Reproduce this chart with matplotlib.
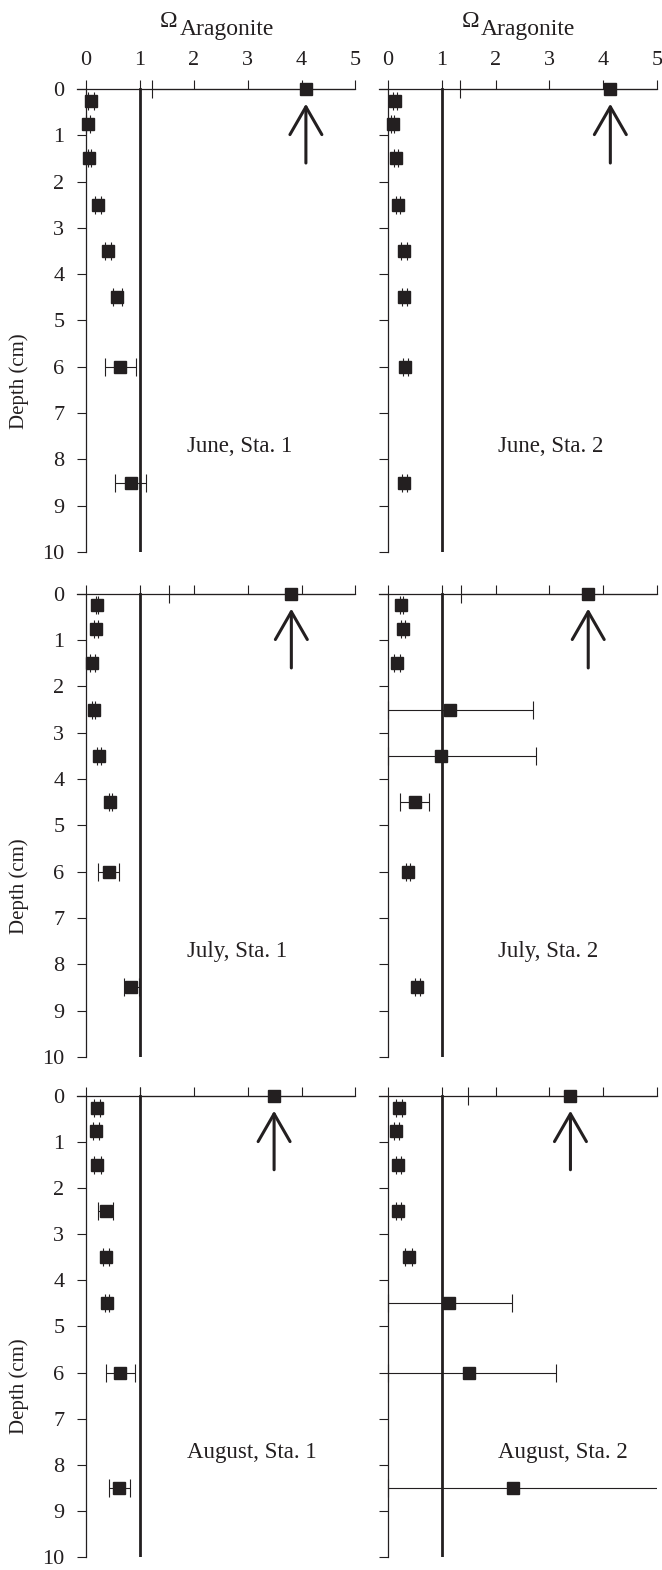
import matplotlib.pyplot as plt

plt.rcParams['font.family'] = ['Liberation Serif', 'DejaVu Serif']

# depths (cm) of the pore-water samples
depths = [0.25, 0.75, 1.5, 2.5, 3.5, 4.5, 6.0, 8.5]

june1_val = [0.09, 0.04, 0.06, 0.22, 0.41, 0.58, 0.64, 0.83]
june1_err = [0.05, 0.04, 0.03, 0.05, 0.05, 0.08, 0.28, 0.29]
june2_val = [0.14, 0.09, 0.15, 0.19, 0.30, 0.31, 0.33, 0.31]
june2_err = [0.04, 0.03, 0.04, 0.04, 0.06, 0.05, 0.05, 0.05]
july1_val = [0.20, 0.18, 0.12, 0.14, 0.24, 0.45, 0.42, 0.84]
july1_err = [0.02, 0.04, 0.04, 0.03, 0.04, 0.03, 0.19, 0.14]
july2_val = [0.25, 0.28, 0.17, 1.16, 0.99, 0.50, 0.38, 0.55]
july2_err = [0.03, 0.04, 0.06, 1.54, 1.77, 0.27, 0.04, 0.04]
aug1_val = [0.20, 0.19, 0.21, 0.37, 0.37, 0.39, 0.64, 0.62]
aug1_err = [0.06, 0.06, 0.07, 0.14, 0.05, 0.03, 0.27, 0.20]
aug2_val = [0.21, 0.16, 0.20, 0.20, 0.39, 1.13, 1.50, 2.33]
aug2_err = [0.05, 0.05, 0.04, 0.05, 0.06, 1.17, 1.63, 2.90]

# overlying water (depth 0)
surface_val = [4.08, 4.13, 3.81, 3.72, 3.49, 3.39]
surface_err = [2.86, 2.79, 2.27, 2.36, 2.49, 1.90]

panel_labels = ['June, Sta. 1', 'June, Sta. 2', 'July, Sta. 1',
                'July, Sta. 2', 'August, Sta. 1', 'August, Sta. 2']
panel_vals = [june1_val, june2_val, july1_val, july2_val, aug1_val, aug2_val]
panel_errs = [june1_err, june2_err, july1_err, july2_err, aug1_err, aug2_err]

ink = '#231f20'

fig = plt.figure(figsize=(6.62, 15.7), dpi=100)
col_left = [0.1160, 0.5718]
row_bottom = [0.6484, 0.3268, 0.0083]
row_h = [0.3097, 0.3097, 0.3083]
w = 0.4210

for i in range(6):
    row, col = i // 2, i % 2
    ax = fig.add_axes([col_left[col], row_bottom[row], w, row_h[row]])
    ax.set_facecolor('none')
    ax.set_xlim(-0.17, 5)
    ax.set_ylim(10, -0.5)

    ax.spines['right'].set_visible(False)
    ax.spines['bottom'].set_visible(False)
    ax.spines['top'].set_position(('data', 0))
    ax.spines['left'].set_position(('data', 0))
    ax.spines['left'].set_bounds(0, 10)
    for s in ['top', 'left']:
        ax.spines[s].set_linewidth(0.9)
        ax.spines[s].set_color(ink)

    ax.xaxis.set_ticks_position('top')
    ax.set_xticks(range(6))
    ax.set_yticks(range(11))
    ax.tick_params(axis='x', direction='out', length=6.5, width=0.8, pad=7,
                   labelsize=16, colors=ink, labeltop=(row == 0), labelbottom=False)
    ax.tick_params(axis='y', direction='out', length=6.5, width=0.8, pad=9,
                   labelsize=16, colors=ink, labelleft=(col == 0))

    # saturation line
    ax.plot([1, 1], [0, 10], color=ink, lw=2)

    vals, errs = panel_vals[i], panel_errs[i]
    lower = [min(e, v) for v, e in zip(vals, errs)]
    ax.errorbar(vals, depths, xerr=[lower, errs], fmt='s', ms=8.6, color=ink,
                ecolor=ink, elinewidth=0.8, capsize=6.5, capthick=0.8, zorder=4)

    # surface water value
    sv, se = surface_val[i], surface_err[i]
    ax.errorbar([sv], [0], xerr=[[se], [se]], fmt='none', ecolor=ink,
                elinewidth=0.8, capsize=6.5, capthick=0.8)
    ax.plot([sv], [0], 's', ms=9, color=ink, zorder=5)
    ax.annotate('', xy=(sv, 0.32), xytext=(sv, 1.6),
                arrowprops=dict(arrowstyle='->,head_length=2.0,head_width=1.15',
                                lw=2.2, color=ink, mutation_scale=10,
                                shrinkA=0, shrinkB=0))

    ax.text(1.87 if col == 0 else 2.05, 7.73, panel_labels[i], fontsize=16.5,
            color=ink, va='center', ha='left')

    if col == 0:
        ax.set_ylabel('Depth (cm)', fontsize=15, color=ink)
        ax.yaxis.set_label_coords(-0.172, 0.352)

# column titles: Omega with "Aragonite" set lower
for om_x, ar_x in [(0.2417, 0.2719), (0.6974, 0.7261)]:
    fig.text(om_x, 0.9830, 'Ω', fontsize=17, color=ink, va='baseline')
    fig.text(ar_x, 0.9777, 'Aragonite', fontsize=17, color=ink, va='baseline')

fig.savefig('out.png', dpi=100)
